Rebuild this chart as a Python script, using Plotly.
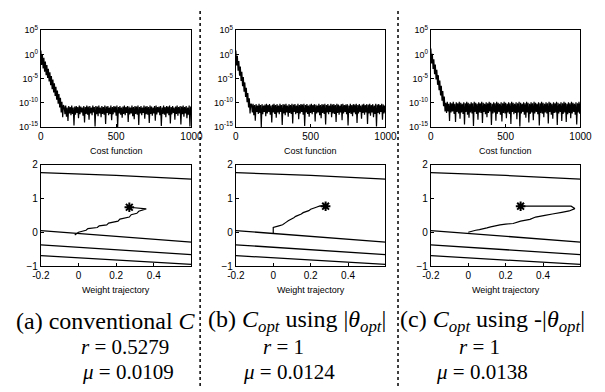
import plotly.graph_objects as go

W, H = 605, 392

# ---------------- data: cost function (log10 of cost), sampled every 5 iterations ----------------
iter_decay_a = list(range(0, 151, 5))
logcost_decay_a = [0.8, -2.2, 0.0, -2.9, -0.7, -3.6, -1.5, -4.3, -2.2, -4.9,
                   -3.0, -5.6, -3.7, -6.4, -4.5, -7.2, -5.2, -7.9, -6.0, -8.6,
                   -6.7, -9.4, -7.5, -10.2, -8.2, -11.0, -9.0, -12.0, -9.8, -13.0,
                   -10.5]
iter_floor_a = list(range(155, 1001, 5))
logcost_floor_a = [
    -10.8, -12.4, -10.6, -12.9, -11.0, -13.8, -10.7, -12.2, -10.9, -12.6,
    -10.6, -12.3, -11.0, -14.7, -10.8, -12.5, -10.7, -12.1, -10.9, -13.2,
    -10.6, -12.4, -10.8, -12.0, -11.0, -12.7, -10.7, -14.1, -10.9, -12.3,
    -10.6, -12.5, -10.8, -13.5, -10.7, -12.2, -11.0, -12.6, -10.6, -12.0,
    -10.9, -14.9, -10.7, -12.4, -10.8, -12.8, -10.6, -12.2, -11.0, -13.0,
    -10.7, -12.3, -10.9, -12.5, -10.6, -14.4, -10.8, -12.1, -10.7, -12.6,
    -11.0, -12.3, -10.6, -13.6, -10.9, -12.4, -10.7, -12.0, -10.8, -12.7,
    -10.6, -15.0, -10.9, -12.2, -10.7, -12.5, -11.0, -13.1, -10.8, -12.3,
    -10.6, -12.6, -10.9, -12.1, -10.7, -14.0, -10.8, -12.4, -11.0, -12.2,
    -10.6, -12.8, -10.9, -13.4, -10.7, -12.3, -10.8, -12.5, -10.6, -14.6,
    -10.9, -12.2, -10.7, -12.6, -11.0, -12.1, -10.6, -13.3, -10.8, -12.4,
    -10.7, -12.5, -10.9, -14.2, -10.6, -12.3, -10.8, -12.7, -11.0, -12.2,
    -10.7, -13.7, -10.6, -12.4, -10.9, -12.0, -10.8, -12.6, -10.7, -14.8,
    -11.0, -12.3, -10.6, -12.5, -10.9, -13.0, -10.7, -12.2, -10.8, -12.6,
    -10.6, -14.3, -10.9, -12.4, -10.7, -12.1, -11.0, -13.5, -10.8, -12.3,
    -10.6, -12.7, -10.9, -12.2, -10.7, -14.5, -10.8, -12.4, -10.6, -12.9,
    -10.9, -12.2, -10.7, -13.2, -11.0, -12.5, -10.6, -14.9, -10.8, -12.3]

iter_decay_b = list(range(0, 101, 5))
logcost_decay_b = [0.8, -2.3, -0.3, -3.4, -1.4, -4.4, -2.5, -5.5, -3.6, -6.6,
                   -4.7, -7.7, -5.8, -8.8, -6.9, -9.9, -8.0, -11.0, -9.1, -12.2,
                   -10.2]
iter_floor_b = list(range(105, 1001, 5))
logcost_floor_b = [
    -10.4, -12.0, -10.2, -12.6, -10.5, -13.7, -10.3, -11.9, -10.6, -12.3,
    -10.2, -12.1, -10.5, -15.0, -10.3, -12.4, -10.6, -11.9, -10.4, -12.8,
    -10.2, -12.2, -10.5, -11.9, -10.3, -12.5, -10.6, -14.1, -10.4, -12.0,
    -10.2, -12.3, -10.5, -13.1, -10.3, -12.0, -10.6, -12.4, -10.2, -11.9,
    -10.5, -14.6, -10.3, -12.2, -10.4, -12.6, -10.2, -12.0, -10.6, -12.9,
    -10.3, -12.1, -10.5, -12.3, -10.2, -14.3, -10.4, -11.9, -10.3, -12.4,
    -10.6, -12.1, -10.2, -13.4, -10.5, -12.2, -10.3, -11.9, -10.4, -12.5,
    -10.2, -14.8, -10.5, -12.0, -10.3, -12.3, -10.6, -12.9, -10.4, -12.1,
    -10.2, -12.4, -10.5, -11.9, -10.3, -13.9, -10.4, -12.2, -10.6, -12.0,
    -10.2, -12.6, -10.5, -13.2, -10.3, -12.1, -10.4, -12.3, -10.2, -14.5,
    -10.5, -12.0, -10.3, -12.4, -10.6, -11.9, -10.2, -13.0, -10.4, -12.2,
    -10.3, -12.3, -10.5, -14.0, -10.2, -12.1, -10.4, -12.5, -10.6, -12.0,
    -10.3, -13.6, -10.2, -12.2, -10.5, -11.9, -10.4, -12.4, -10.3, -14.7,
    -10.6, -12.1, -10.2, -12.3, -10.5, -12.8, -10.3, -12.0, -10.4, -12.4,
    -10.2, -14.2, -10.5, -12.2, -10.3, -11.9, -10.6, -13.3, -10.4, -12.1,
    -10.2, -12.5, -10.5, -12.0, -10.3, -14.4, -10.4, -12.2, -10.2, -12.7,
    -10.5, -12.0, -10.3, -13.0, -10.6, -12.3, -10.2, -14.9, -10.4, -12.1,
    -10.3, -12.4, -10.5, -11.9, -10.2, -13.5, -10.4, -12.2, -10.6, -12.0]

iter_decay_c = list(range(0, 96, 5))
logcost_decay_c = [1.2, -1.9, 0.1, -3.0, -1.0, -4.1, -2.1, -5.2, -3.2, -6.3,
                   -4.3, -7.4, -5.4, -8.5, -6.5, -9.6, -7.6, -10.7, -8.7, -11.8]
iter_floor_c = list(range(100, 1001, 5))
logcost_floor_c = [
    -10.0, -12.1, -9.8, -11.8, -10.2, -13.8, -9.9, -12.0, -10.1, -11.8,
    -9.8, -12.3, -10.2, -14.0, -9.9, -11.9, -10.1, -12.2, -9.8, -13.3,
    -10.0, -12.0, -10.2, -12.3, -9.9, -14.5, -10.1, -11.9, -9.8, -12.5,
    -10.0, -13.1, -10.2, -12.0, -9.9, -12.2, -10.1, -14.8, -9.8, -11.9,
    -10.0, -12.3, -10.2, -13.5, -9.9, -12.0, -10.1, -12.1, -9.8, -14.2,
    -10.0, -11.9, -10.2, -12.4, -9.9, -13.0, -10.1, -12.1, -9.8, -11.8,
    -10.0, -14.6, -10.2, -12.2, -9.9, -12.0, -10.1, -13.7, -9.8, -12.3,
    -10.0, -11.9, -10.2, -12.5, -9.9, -13.9, -10.1, -12.1, -9.8, -12.2,
    -10.0, -13.2, -10.2, -12.0, -9.9, -12.3, -10.1, -14.4, -9.8, -11.9,
    -10.0, -12.4, -10.2, -12.1, -9.9, -13.4, -10.1, -12.0, -9.8, -14.9,
    -10.0, -12.2, -10.2, -11.9, -9.9, -12.5, -10.1, -13.1, -9.8, -12.0,
    -10.0, -14.1, -10.2, -12.3, -9.9, -12.0, -10.1, -13.6, -9.8, -12.2,
    -10.0, -11.9, -10.2, -12.4, -9.9, -14.7, -10.1, -12.1, -9.8, -12.3,
    -10.0, -13.0, -10.2, -12.0, -9.9, -12.2, -10.1, -14.3, -9.8, -11.9,
    -10.0, -12.5, -10.2, -13.3, -9.9, -12.1, -10.1, -12.0, -9.8, -14.6,
    -10.0, -12.2, -10.2, -11.9, -9.9, -13.8, -10.1, -12.3, -9.8, -12.0,
    -10.0, -14.0, -10.2, -12.4, -9.9, -12.1, -10.1, -13.2, -9.8, -12.2,
    -10.0, -11.9, -10.2, -12.5, -9.9, -14.5, -10.1, -12.0, -9.8, -12.3,
    -10.0]

cost_tick_vals = [1e5, 1e0, 1e-5, 1e-10, 1e-15]
cost_tick_text = ["10<sup>5</sup>", "10<sup>0</sup>", "10<sup>-5</sup>",
                  "10<sup>-10</sup>", "10<sup>-15</sup>"]
iter_ticks = [0, 500, 1000]

# ---------------- data: weight trajectory ----------------
contour_x = [-0.2, 0.2, 0.6]
contour_levels_y = [
    [1.76, 1.68, 1.57],
    [0.05, -0.13, -0.29],
    [-0.37, -0.52, -0.66],
    [-0.69, -0.82, -0.95],
]

traj_a_x = [-0.02, 0.00, 0.04, 0.05, 0.10, 0.11, 0.15, 0.16, 0.21, 0.22, 0.27, 0.28, 0.31, 0.32, 0.36, 0.27]
traj_a_y = [-0.08, 0.00, 0.06, 0.11, 0.14, 0.19, 0.22, 0.27, 0.33, 0.39, 0.45, 0.52, 0.56, 0.62, 0.69, 0.74]
traj_b_x = [0.00, 0.00, 0.03, 0.05, 0.07, 0.08, 0.11, 0.12, 0.15, 0.16, 0.19, 0.20, 0.23, 0.25, 0.28]
traj_b_y = [-0.05, 0.14, 0.19, 0.22, 0.30, 0.34, 0.43, 0.47, 0.54, 0.58, 0.64, 0.68, 0.74, 0.78, 0.77]
traj_c_x = [0.00, 0.04, 0.06, 0.10, 0.12, 0.17, 0.20, 0.24, 0.28, 0.33, 0.36, 0.41, 0.45, 0.50, 0.54, 0.57, 0.55, 0.28]
traj_c_y = [0.00, 0.06, 0.08, 0.13, 0.16, 0.22, 0.24, 0.26, 0.33, 0.38, 0.45, 0.50, 0.54, 0.59, 0.63, 0.70, 0.77, 0.77]

w_x_ticks = [-0.2, 0.0, 0.2, 0.4]
w_x_text = ["-0.2", "0", "0.2", "0.4"]
w_y_ticks = [-1, 0, 1, 2]

captions = [
    ["(a) conventional <i>C</i>", "<i>r</i> = 0.5279", "<i>μ</i> = 0.0109"],
    ["(b) <i>C<sub>opt</sub></i> using |<i>θ<sub>opt</sub></i>|", "<i>r</i> = 1", "<i>μ</i> = 0.0124"],
    ["(c) <i>C<sub>opt</sub></i> using -|<i>θ<sub>opt</sub></i>|", "<i>r</i> = 1", "<i>μ</i> = 0.0138"],
]

# ---------------- layout helpers ----------------
def px_x(p):
    return p / W

def px_y(p):
    return 1 - p / H

panel_left = [33, 235, 437]
panel_right = [189, 390, 592]
top_box = (24, 124)
bot_box = (163, 268)
caption_cx = [100, 298, 501]
r_cx = [120, 284, 487]
mu_cx = [123, 290, 490]

fig = go.Figure()

axis_common = dict(showline=True, linecolor="black", linewidth=1, mirror=True,
                   ticks="inside", ticklen=3, tickcolor="black", showgrid=False,
                   zeroline=False, tickfont=dict(family="Liberation Sans, Arial", size=10, color="black"))

decays = [(iter_decay_a, logcost_decay_a, iter_floor_a, logcost_floor_a),
          (iter_decay_b, logcost_decay_b, iter_floor_b, logcost_floor_b),
          (iter_decay_c, logcost_decay_c, iter_floor_c, logcost_floor_c)]
trajs = [(traj_a_x, traj_a_y), (traj_b_x, traj_b_y), (traj_c_x, traj_c_y)]

layout_axes = {}
for k in range(3):
    # top: cost function
    xi = 2 * k + 1
    xs = "x" if xi == 1 else f"x{xi}"
    ys = "y" if xi == 1 else f"y{xi}"
    it_d, lc_d, it_f, lc_f = decays[k]
    xs_all = it_d + it_f
    ys_all = [10 ** v for v in lc_d + lc_f]
    fig.add_trace(go.Scatter(x=xs_all, y=ys_all, mode="lines",
                             line=dict(color="black", width=1.2, simplify=False),
                             xaxis=xs, yaxis=ys, showlegend=False, hoverinfo="skip"))
    layout_axes[f"xaxis{xi}"] = dict(axis_common, domain=[px_x(panel_left[k]), px_x(panel_right[k])],
                                     anchor=ys, range=[0, 1000], tickvals=iter_ticks)
    layout_axes[f"yaxis{xi}"] = dict(axis_common, domain=[px_y(top_box[1]), px_y(top_box[0])],
                                     anchor=xs, type="log", range=[-15, 5],
                                     tickvals=cost_tick_vals, ticktext=cost_tick_text,
                                     tickfont=dict(family="Liberation Sans, Arial", size=9, color="black"))
    # bottom: weight trajectory
    xi2 = 2 * k + 2
    xs2, ys2 = f"x{xi2}", f"y{xi2}"
    for cy in contour_levels_y:
        fig.add_trace(go.Scatter(x=contour_x, y=cy, mode="lines",
                                 line=dict(color="black", width=1.3),
                                 xaxis=xs2, yaxis=ys2, showlegend=False, hoverinfo="skip"))
    tx, ty = trajs[k]
    fig.add_trace(go.Scatter(x=tx, y=ty, mode="lines",
                             line=dict(color="black", width=1.2, simplify=False),
                             xaxis=xs2, yaxis=ys2, showlegend=False, hoverinfo="skip"))
    fig.add_trace(go.Scatter(x=[tx[-1]], y=[ty[-1]], mode="markers",
                             marker=dict(symbol="asterisk-open", size=8, color="black",
                                         line=dict(color="black", width=2)),
                             xaxis=xs2, yaxis=ys2, showlegend=False, hoverinfo="skip"))
    layout_axes[f"xaxis{xi2}"] = dict(axis_common, domain=[px_x(panel_left[k]), px_x(panel_right[k])],
                                      anchor=ys2, range=[-0.2, 0.6], tickvals=w_x_ticks, ticktext=w_x_text)
    layout_axes[f"yaxis{xi2}"] = dict(axis_common, domain=[px_y(bot_box[1]), px_y(bot_box[0])],
                                      anchor=xs2, range=[-1, 2], tickvals=w_y_ticks)

annotations = []
small_font = dict(family="Liberation Sans, Arial", size=9, color="black")
serif_big = dict(family="Liberation Serif, Times New Roman", size=24, color="black")
serif_mid = dict(family="Liberation Serif, Times New Roman", size=21, color="black")
for k in range(3):
    cx = (panel_left[k] + panel_right[k]) / 2
    annotations.append(dict(x=px_x(cx), y=px_y(149), xref="paper", yref="paper",
                            text="Cost function", showarrow=False, font=small_font,
                            xanchor="center", yanchor="middle"))
    annotations.append(dict(x=px_x(cx), y=px_y(293), xref="paper", yref="paper",
                            text="Weight trajectory", showarrow=False, font=small_font,
                            xanchor="center", yanchor="middle"))
    annotations.append(dict(x=px_x(caption_cx[k]), y=px_y(325), xref="paper", yref="paper",
                            text=captions[k][0], showarrow=False, font=serif_big,
                            xanchor="center", yanchor="middle"))
    annotations.append(dict(x=px_x(r_cx[k]), y=px_y(352), xref="paper", yref="paper",
                            text=captions[k][1], showarrow=False, font=serif_mid,
                            xanchor="center", yanchor="middle"))
    annotations.append(dict(x=px_x(mu_cx[k]), y=px_y(378), xref="paper", yref="paper",
                            text=captions[k][2], showarrow=False, font=serif_mid,
                            xanchor="center", yanchor="middle"))

shapes = []
for sx in [198, 403]:
    shapes.append(dict(type="line", xref="paper", yref="paper",
                       x0=px_x(sx), x1=px_x(sx), y0=0, y1=px_y(4),
                       line=dict(color="black", width=1.5, dash="dot")))

fig.update_layout(width=W, height=H, margin=dict(l=0, r=0, t=0, b=0),
                  paper_bgcolor="white", plot_bgcolor="white",
                  annotations=annotations, shapes=shapes, **layout_axes)

fig.write_html("out.html")
